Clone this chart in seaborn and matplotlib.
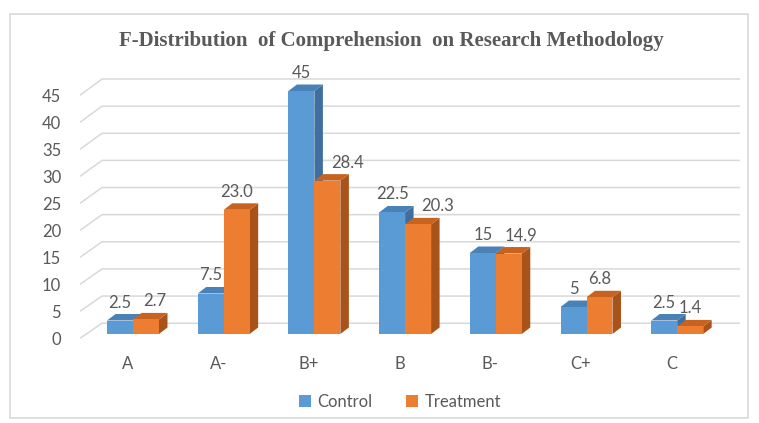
import numpy as np
import pandas as pd
import matplotlib
matplotlib.use("Agg")
import matplotlib.pyplot as plt
from matplotlib.patches import Polygon, Rectangle, Patch
import seaborn as sns

categories = ["A", "A-", "B+", "B", "B-", "C+", "C"]
control = [2.5, 7.5, 45, 22.5, 15, 5, 2.5]
treatment = [2.7, 23.0, 28.4, 20.3, 14.9, 6.8, 1.4]
control_labels = ["2.5", "7.5", "45", "22.5", "15", "5", "2.5"]
treatment_labels = ["2.7", "23.0", "28.4", "20.3", "14.9", "6.8", "1.4"]
series = ["Control", "Treatment"]
y_ticks = [0, 5, 10, 15, 20, 25, 30, 35, 40, 45]
title = "F-Distribution  of Comprehension  on Research Methodology"

df = pd.DataFrame({
    "cat": categories * 2,
    "series": [series[0]] * len(categories) + [series[1]] * len(categories),
    "value": control + treatment,
})

front = {"Control": "#5B9BD5", "Treatment": "#ED7D31"}
top_c = {"Control": "#4A82B8", "Treatment": "#C8631F"}
side_c = {"Control": "#3F6F9E", "Treatment": "#A9531B"}
text_col = "#595959"
grid_col = "#D9D9D9"
sans = ["Lato", "DejaVu Sans"]

W, H = 759, 423
fig = plt.figure(figsize=(W / 100, H / 100), dpi=100)
L, R, T, B = 75, 745, 70, 345
ax = fig.add_axes([L / W, 1 - B / H, (R - L) / W, (B - T) / H])
px_cat = 90.7
px_val = 5.4
x0 = 133
yb0 = 334

sns.barplot(data=df, x="cat", y="value", hue="series", order=categories,
            hue_order=series, palette=front, width=0.573, ax=ax,
            legend=False, zorder=3, linewidth=0, saturation=1)

ax.set_xlim((L - x0) / px_cat, (R - x0) / px_cat)
ax.set_ylim((yb0 - B) / px_val, (yb0 - T) / px_val)

# wall gridlines (3D perspective)
xf = (80 - x0) / px_cat
xb = (102 - x0) / px_cat
xr = (740 - x0) / px_cat
wf, wb = -0.8, 2.0
for v in y_ticks:
    yb = v + wb * (1 + v / 400)
    ax.plot([xf, xb, xr], [v + wf, yb, yb],
            color=grid_col, lw=1.1, zorder=1, solid_capstyle="butt")

# 3D faces and data labels
dx = 8.5 / px_cat
dy = 6.5 / px_val
labels_all = [control_labels, treatment_labels]
texts = [[], []]
geom = [[], []]
for si, cont in enumerate(ax.containers):
    name = series[si]
    for bi, p in enumerate(cont.patches):
        x, w, h = p.get_x(), p.get_width(), p.get_height()
        z = 3 + si * 0.1
        side = Polygon([(x + w, 0), (x + w + dx, dy), (x + w + dx, h + dy), (x + w, h)],
                       closed=True, facecolor=side_c[name], edgecolor="none", zorder=z)
        top = Polygon([(x, h), (x + dx, h + dy), (x + w + dx, h + dy), (x + w, h)],
                      closed=True, facecolor=top_c[name], edgecolor="none", zorder=z)
        ax.add_patch(side)
        ax.add_patch(top)
        p.set_zorder(z + 0.05)
        t = ax.text(x + w / 2, h + 13 / px_val, labels_all[si][bi],
                    ha="center", va="baseline", fontsize=12, color=text_col,
                    family=sans, zorder=6)
        texts[si].append(t)
        geom[si].append((x, w, h))

sns.despine(ax=ax, left=True, bottom=True)
ax.set_xlabel("")
ax.set_ylabel("")
ax.set_yticks([v + wf for v in y_ticks])
ax.set_yticklabels([str(v) for v in y_ticks], fontsize=12, color=text_col, family=sans)
ax.set_xticks(np.arange(len(categories)) - 0.06)
ax.set_xticklabels(categories, fontsize=12, color=text_col, family=sans)
ax.tick_params(axis="y", length=0, pad=10)
ax.tick_params(axis="x", length=0, pad=8)
ax.grid(False)
ax.set_facecolor("none")

# nudge treatment labels right when they collide with the control label / bar
fig.canvas.draw()
rend = fig.canvas.get_renderer()
for bi in range(len(categories)):
    tc, tt = texts[0][bi], texts[1][bi]
    bc = tc.get_window_extent(rend)
    bt = tt.get_window_extent(rend)
    xc, wc, hc = geom[0][bi]
    side_r, bar_top = ax.transData.transform((xc + wc + dx, hc + dy))
    target = None
    if abs(bt.y0 - bc.y0) < 4 and bt.x0 < bc.x1 + 6:
        target = bc.x1 + 12
    if bt.y0 + 4 < bar_top and bt.x0 < side_r:
        t2 = max(side_r, bc.x1 if bt.y1 > bc.y0 else 0) + 8
        target = max(target or 0, t2)
    if target is not None and target > bt.x0:
        shift = (target - bt.x0) / px_cat
        xx, yy = tt.get_position()
        tt.set_position((xx + shift, yy))

fig.text(391 / W, 1 - 41 / H, title, ha="center", va="center", fontsize=15,
         fontweight="bold", family=["Liberation Serif", "DejaVu Serif"], color=text_col)

handles = [Patch(facecolor=front[s], edgecolor="none") for s in series]
leg = fig.legend(handles, series, loc="center", bbox_to_anchor=(400 / W, 1 - 402 / H),
                 ncol=2, frameon=False, handlelength=0.7, handleheight=0.7,
                 handletextpad=0.4, columnspacing=2.0,
                 prop={"family": sans, "size": 12})
for t in leg.get_texts():
    t.set_color(text_col)

fig.patches.append(Rectangle((10 / W, 1 - 418 / H), 738 / W, 404 / H,
                             transform=fig.transFigure, fill=False,
                             edgecolor=grid_col, lw=1.2))

fig.savefig("out.png", dpi=100, facecolor="white")
